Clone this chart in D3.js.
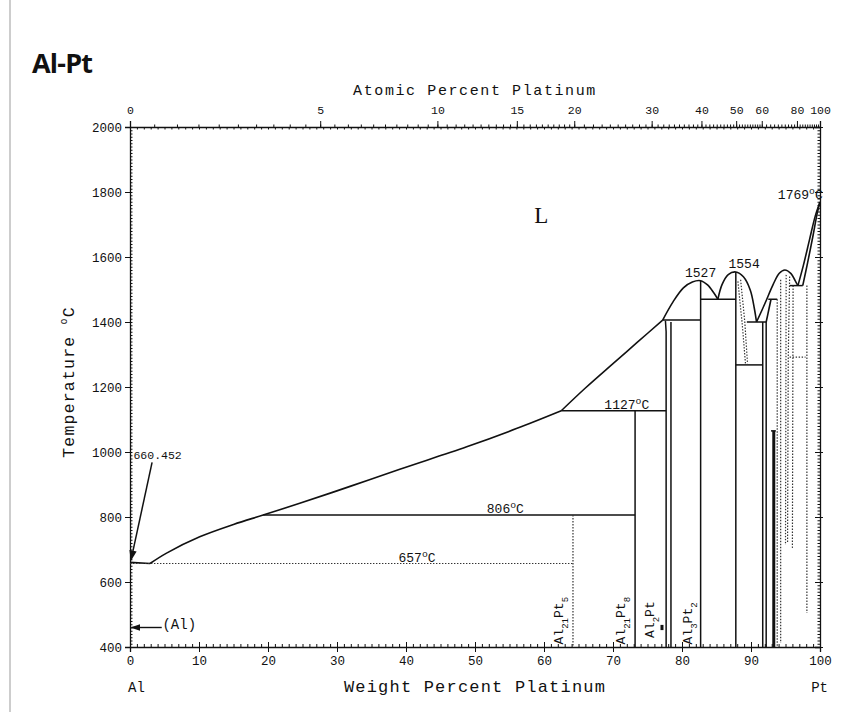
<!DOCTYPE html>
<html><head><meta charset="utf-8">
<script src="https://cdn.jsdelivr.net/npm/d3@7"></script>
<style>body{margin:0;background:#fff} svg{display:block}</style>
</head><body>
<svg id="chart" width="850" height="712"></svg>
<script>
// ---------- data (weight % Pt, temperature °C) ----------
const atomicTickValues = [0,5,10,15,20,30,40,50,60,80,100];
const weightTickValues = [0,10,20,30,40,50,60,70,80,90,100];
const tempTickValues = [400,600,800,1000,1200,1400,1600,1800,2000];

// liquidus pieces (smooth)
const liquidusAlEnd = [[0,660.452],[2.9,657]];
const liquidusToAl21Pt8 = [[2.9,657],[5.3,689],[10.1,739],[15,777],[19.3,806],[24.6,842],[32,895],[39.1,947],[48.8,1016],[56,1072],[62.5,1127]];
const liquidusToAl2Pt = [[62.5,1127],[66,1197],[70,1272],[73.5,1337],[77.2,1406]];
const liquidusAl3Pt2 = [[77.2,1406],[78.7,1462],[80.2,1505],[81.5,1523],[82.7,1527],[83.7,1514],[84.6,1490],[85.2,1470]];
const liquidusAlPt = [[85.2,1470],[85.8,1515],[86.7,1546],[87.8,1554],[88.9,1539],[89.9,1498],[90.5,1440],[90.8,1400]];
const liquidusAlPt3 = [[90.8,1400],[92.0,1456],[93.2,1515],[94.1,1550],[94.9,1560],[95.8,1549],[96.4,1527],[96.8,1512]];
const liquidusPt = [[96.8,1512],[97.6,1575],[98.5,1655],[99.3,1725],[100,1769]];
const solidusPt = [[97.5,1512],[98.2,1582],[99.0,1667],[99.6,1735],[100,1769]];
const solidusAlPt3Left = [[92.2,1400],[92.6,1440],[92.9,1470]];

// solid straight lines (isotherms and phase boundaries)
const solidLines = [
  [[19.3,806],[73.2,806]],
  [[62.5,1127],[77.7,1127]],
  [[73.2,1127],[73.2,400]],
  [[77.6,1404],[77.7,1370],[77.7,400]],
  [[78.4,1400],[78.4,400]],
  [[77.2,1406],[82.7,1406]],
  [[82.7,1527],[82.7,400]],
  [[82.7,1470],[87.8,1470]],
  [[87.8,1554],[87.8,400]],
  [[87.8,1268],[91.7,1268]],
  [[89.4,1400],[92.2,1400]],
  [[91.7,1400],[91.7,400]],
  [[92.2,1400],[92.2,400]],
  [[92.5,1470],[93.8,1470]],
  [[95.6,1512],[97.5,1512]],
  [[92.9,1065],[93.6,1065]]
];
const thickLines = [
  [[93.3,1065],[93.3,400]],
  [[77.1,452],[77.1,468]]
];
// dotted lines
const dottedLines = [
  [[0,657],[64.2,657]],
  [[64.2,806],[64.2,400]],
  [[88.1,1525],[88.7,1400],[89.2,1272]],
  [[88.5,1530],[89.1,1400],[89.5,1272]],
  [[93.8,1470],[93.8,400]],
  [[94.3,1530],[94.3,412]],
  [[95.1,1545],[95.0,714]],
  [[95.6,1540],[95.4,1292],[95.3,722]],
  [[95.6,1292],[97.9,1292]],
  [[96.1,1512],[96.0,705]],
  [[98.1,1512],[98.1,505]]
];

// ---------- layout ----------
const svg = d3.select("#chart");
const x = d3.scaleLinear().domain([0,100]).range([130,820]);
const y = d3.scaleLinear().domain([400,2000]).range([647,127]);
const ink = "#111";
const mono = "'Liberation Mono', 'DejaVu Sans Mono', monospace";

// page edge line
svg.append("line").attr("x1",10).attr("x2",10).attr("y1",0).attr("y2",712)
  .attr("stroke","#bdbdbd").attr("stroke-width",1.5);

// title
svg.append("text").attr("x",32).attr("y",73).text("Al-Pt")
  .attr("font-family","'Open Sans', Lato, sans-serif").attr("font-weight",700)
  .attr("font-size",27).attr("letter-spacing",-0.8).attr("fill","#111");

// conversion at% -> wt%
const MAl = 26.98, MPt = 195.08;
const atToWt = a => a <= 0 ? 0 : a >= 100 ? 100 : 100*a*MPt/(a*MPt + (100-a)*MAl);

function styleAxis(g){
  g.select(".domain").attr("stroke",ink).attr("stroke-width",1.3);
  g.selectAll(".tick line").attr("stroke",ink).attr("stroke-width",1);
  g.selectAll("text").attr("font-family",mono).attr("font-size",12.5).attr("fill",ink);
}

// bottom axis
const gB = svg.append("g").attr("transform","translate(0,647)")
  .call(d3.axisBottom(x).tickValues(weightTickValues).tickSize(5).tickPadding(4).tickFormat(d3.format("d")));
styleAxis(gB);
svg.append("g").attr("transform","translate(0,647)")
  .call(d3.axisTop(x).tickValues(d3.range(0,101,1)).tickSize(3).tickFormat(""))
  .call(g=>{g.select(".domain").remove(); g.selectAll("line").attr("stroke",ink);});
svg.append("g").attr("transform","translate(0,647)")
  .call(d3.axisTop(x).tickValues(weightTickValues).tickSize(5).tickFormat(""))
  .call(g=>{g.select(".domain").remove(); g.selectAll("line").attr("stroke",ink);});

// top axis (atomic %)
const gT = svg.append("g").attr("transform","translate(0,127)")
  .call(d3.axisTop(x).tickValues(atomicTickValues.map(atToWt)).tickSize(6).tickPadding(7)
    .tickFormat((d,i)=>atomicTickValues[i]));
styleAxis(gT);
gT.selectAll("text").attr("font-size",11.5);
const atMinor = d3.range(0,20,0.5).concat(d3.range(20,60,1)).concat(d3.range(60,100,2));
svg.append("g").attr("transform","translate(0,127)")
  .call(d3.axisTop(x).tickValues(atMinor.map(atToWt)).tickSize(2.5).tickFormat(""))
  .call(g=>{g.select(".domain").remove(); g.selectAll("line").attr("stroke",ink);});
svg.append("g").attr("transform","translate(0,127)")
  .call(d3.axisBottom(x).tickValues(d3.range(0,101,1)).tickSize(2.5).tickFormat(""))
  .call(g=>{g.select(".domain").remove(); g.selectAll("line").attr("stroke",ink);});

// left axis
const gL = svg.append("g").attr("transform","translate(130,0)")
  .call(d3.axisLeft(y).tickValues(tempTickValues).tickSize(5).tickPadding(3).tickFormat(d3.format("d")));
styleAxis(gL);
svg.append("g").attr("transform","translate(130,0)")
  .call(d3.axisRight(y).tickValues(d3.range(400,2001,10)).tickSize(2.5).tickFormat(""))
  .call(g=>{g.select(".domain").remove(); g.selectAll("line").attr("stroke",ink);});
// right axis
const gR = svg.append("g").attr("transform","translate(820,0)")
  .call(d3.axisLeft(y).tickValues(tempTickValues).tickSize(5).tickFormat(""));
styleAxis(gR);
svg.append("g").attr("transform","translate(820,0)")
  .call(d3.axisLeft(y).tickValues(d3.range(400,2001,10)).tickSize(2.5).tickFormat(""))
  .call(g=>{g.select(".domain").remove(); g.selectAll("line").attr("stroke",ink);});
svg.append("g").attr("transform","translate(820,0)")
  .call(d3.axisRight(y).tickValues(tempTickValues).tickSize(3).tickFormat(""))
  .call(g=>{g.select(".domain").remove(); g.selectAll("line").attr("stroke",ink);});

// axis titles
svg.append("text").attr("x",475).attr("y",95).attr("text-anchor","middle")
  .attr("font-family",mono).attr("font-size",15).attr("letter-spacing",1.6)
  .attr("fill",ink).text("Atomic Percent Platinum");
svg.append("text").attr("x",475).attr("y",692).attr("text-anchor","middle")
  .attr("font-family",mono).attr("font-size",17).attr("letter-spacing",1.2)
  .attr("fill",ink).text("Weight Percent Platinum");
svg.append("text").attr("x",x(0)-2).attr("y",692).attr("text-anchor","start")
  .attr("font-family",mono).attr("font-size",14).attr("fill",ink).text("Al");
svg.append("text").attr("x",x(100)+8).attr("y",692).attr("text-anchor","end")
  .attr("font-family",mono).attr("font-size",14).attr("fill",ink).text("Pt");
const yt = svg.append("text").attr("transform","translate(74,382) rotate(-90)")
  .attr("text-anchor","middle").attr("font-family",mono).attr("font-size",16.5)
  .attr("letter-spacing",1.2).attr("fill",ink);
yt.append("tspan").text("Temperature ");
yt.append("tspan").text("o").attr("font-size",10).attr("dy",-7);
yt.append("tspan").text("C").attr("dy",7);

// ---------- phase boundaries ----------
const smooth = d3.line().x(d=>x(d[0])).y(d=>y(d[1])).curve(d3.curveCatmullRom.alpha(0.5));
const straight = d3.line().x(d=>x(d[0])).y(d=>y(d[1]));
const plot = svg.append("g");

[liquidusAlEnd, liquidusToAl21Pt8, liquidusToAl2Pt, liquidusAl3Pt2, liquidusAlPt, liquidusAlPt3, liquidusPt, solidusPt, solidusAlPt3Left]
  .forEach(seg => plot.append("path").attr("d",smooth(seg)).attr("fill","none")
    .attr("stroke",ink).attr("stroke-width",1.6));
solidLines.forEach(seg => plot.append("path").attr("d",straight(seg)).attr("fill","none")
  .attr("stroke",ink).attr("stroke-width",1.5));
thickLines.forEach(seg => plot.append("path").attr("d",straight(seg)).attr("fill","none")
  .attr("stroke",ink).attr("stroke-width",3));
dottedLines.forEach(seg => plot.append("path").attr("d",straight(seg)).attr("fill","none")
  .attr("stroke","#333").attr("stroke-width",1.2).attr("stroke-dasharray","1.4,1.6"));

// arrows
const defs = svg.append("defs");
defs.append("marker").attr("id","arr").attr("viewBox","0 0 10 10").attr("refX",9).attr("refY",5)
  .attr("markerWidth",7).attr("markerHeight",7).attr("orient","auto-start-reverse")
  .append("path").attr("d","M0,1.5 L10,5 L0,8.5 Z").attr("fill",ink);
plot.append("line").attr("x1",x(3.2)).attr("y1",y(968)).attr("x2",x(0.15)).attr("y2",y(668))
  .attr("stroke",ink).attr("stroke-width",1.5).attr("marker-end","url(#arr)");
plot.append("line").attr("x1",x(4.6)).attr("y1",y(460)).attr("x2",x(0.2)).attr("y2",y(460))
  .attr("stroke",ink).attr("stroke-width",1.4).attr("marker-end","url(#arr)");

// ---------- labels ----------
function label(txt, wx, t, opts={}){
  const el = svg.append("text").attr("x",x(wx)).attr("y",y(t))
    .attr("text-anchor",opts.anchor||"middle").attr("font-family",mono)
    .attr("font-size",opts.size||13).attr("fill",ink);
  if(opts.deg){
    el.append("tspan").text(txt);
    el.append("tspan").text("o").attr("font-size",(opts.size||13)*0.75).attr("dy",-5);
    el.append("tspan").text("C").attr("dy",5);
  } else el.text(txt);
  return el;
}
svg.append("text").attr("x",x(59.6)).attr("y",y(1705)).attr("text-anchor","middle")
  .attr("font-family","'Liberation Serif', serif").attr("font-size",23).attr("fill",ink).text("L");
label("660.452", 0.5, 978, {anchor:"start", size:11.5});
label("(Al)", 4.7, 454, {anchor:"start", size:14});
label("657", 41.6, 662, {deg:true});
label("806", 54.4, 812, {deg:true});
label("1127", 72.0, 1133, {deg:true});
label("1527", 82.7, 1538);
label("1554", 89.0, 1566);
label("1769", 100.4, 1778, {deg:true, anchor:"end"});

// compound labels (rotated)
function compound(parts, wx, t){
  const el = svg.append("text")
    .attr("transform",`translate(${x(wx)},${y(t)}) rotate(-90)`)
    .attr("font-family",mono).attr("font-size",13).attr("fill",ink);
  parts.forEach(p=>{
    const ts = el.append("tspan").text(p[0]);
    if(p[1]) ts.attr("font-size",9).attr("baseline-shift","sub");
  });
}
compound([["Al"],["21",1],["Pt"],["5",1]], 62.8, 408);
compound([["Al"],["21",1],["Pt"],["8",1]], 71.8, 408);
compound([["Al"],["2",1],["Pt"]], 76.0, 428);
compound([["Al"],["3",1],["Pt"],["2",1]], 81.4, 408);
</script>
</body></html>
